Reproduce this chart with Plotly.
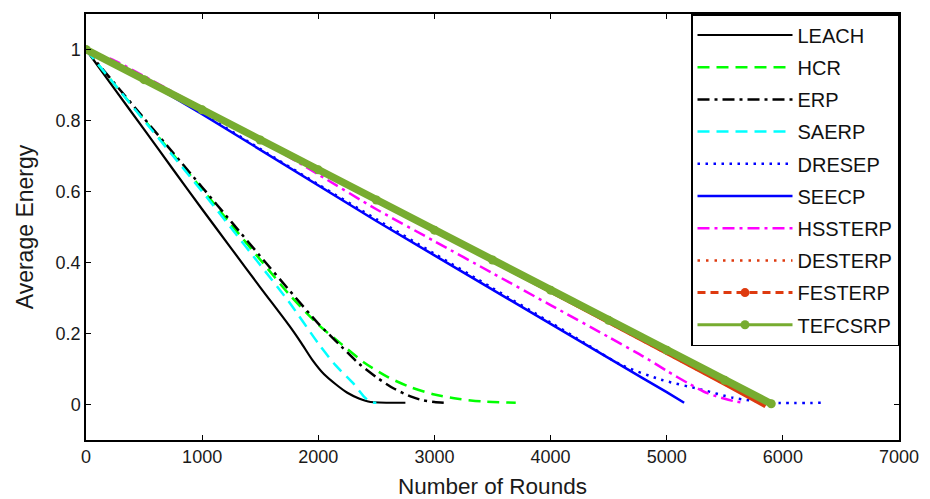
import plotly.graph_objects as go

# ---- data ----
leach_x = [0, 250, 500, 750, 1000, 1250, 1500, 1750, 1850, 1950, 2050, 2150, 2250, 2350, 2450, 2750]
leach_y = [1.0, 0.887, 0.775, 0.662, 0.55, 0.44, 0.33, 0.222, 0.175, 0.125, 0.085, 0.057, 0.033, 0.017, 0.007, 0.005]

hcr_x = [0, 250, 500, 750, 1000, 1250, 1500, 1750, 2000, 2200, 2400, 2600, 2800, 3000, 3200, 3400, 3700]
hcr_y = [1.0, 0.9, 0.802, 0.704, 0.606, 0.507, 0.408, 0.31, 0.225, 0.17, 0.117, 0.077, 0.048, 0.028, 0.016, 0.009, 0.005]

erp_x = [0, 250, 500, 750, 1000, 1250, 1500, 1750, 2000, 2200, 2350, 2500, 2650, 2800, 2900, 3000, 3080]
erp_y = [1.0, 0.903, 0.806, 0.709, 0.612, 0.515, 0.418, 0.322, 0.228, 0.163, 0.115, 0.077, 0.045, 0.022, 0.012, 0.007, 0.005]

saerp_x = [0, 250, 500, 750, 1000, 1250, 1500, 1750, 2000, 2150, 2300, 2400, 2450, 2500]
saerp_y = [1.0, 0.9, 0.8, 0.7, 0.6, 0.497, 0.393, 0.288, 0.172, 0.11, 0.06, 0.02, 0.007, 0.005]

dresep_x = [0, 500, 1000, 1500, 2000, 2500, 3000, 3500, 4000, 4300, 4600, 4950, 5300, 5570, 5900, 6370]
dresep_y = [1.0, 0.915, 0.82, 0.72, 0.62, 0.522, 0.425, 0.328, 0.231, 0.172, 0.113, 0.07, 0.042, 0.019, 0.005, 0.005]

seecp_x = [0, 500, 1000, 1500, 2000, 2500, 3000, 3500, 4000, 4500, 4800, 5000, 5150]
seecp_y = [1.0, 0.914, 0.818, 0.717, 0.616, 0.517, 0.42, 0.323, 0.226, 0.13, 0.073, 0.035, 0.005]

hssterp_x = [0, 250, 500, 1000, 1500, 2000, 2500, 3000, 3500, 4000, 4500, 4800, 5000, 5200, 5350, 5500, 5600, 5660]
hssterp_y = [1.0, 0.968, 0.925, 0.835, 0.745, 0.648, 0.55, 0.46, 0.37, 0.28, 0.19, 0.135, 0.095, 0.057, 0.032, 0.016, 0.008, 0.005]

desterp_x = [0, 500, 1000, 1500, 2000, 2500, 3000, 3500, 4000, 4500, 5000, 5500, 5800, 5850]
desterp_y = [1.0, 0.916, 0.832, 0.748, 0.663, 0.577, 0.49, 0.403, 0.316, 0.229, 0.142, 0.055, 0.005, -0.004]

festerp_x = [0, 500, 1000, 1500, 2000, 2500, 3000, 3500, 4000, 4500, 5000, 5500, 5750, 5850]
festerp_y = [1.0, 0.917, 0.834, 0.75, 0.665, 0.578, 0.492, 0.405, 0.318, 0.231, 0.145, 0.058, 0.015, -0.005]

tefcsrp_x = [0, 500, 1000, 1500, 2000, 2500, 3000, 3500, 4000, 4500, 5000, 5500, 5900]
tefcsrp_y = [1.0, 0.915, 0.83, 0.745, 0.661, 0.576, 0.491, 0.407, 0.322, 0.237, 0.153, 0.068, 0.002]

x_ticks = [0, 1000, 2000, 3000, 4000, 5000, 6000, 7000]
y_ticks = [0, 0.2, 0.4, 0.6, 0.8, 1]
y_ticktext = ["0", "0.2", "0.4", "0.6", "0.8", "1"]

RED = "#DE3A0F"
GREEN = "#77AC30"
FONT = "Liberation Sans, Arial, sans-serif"

fig = go.Figure()

def add(name, xs, ys, color, width, dash, rank, group, shape="linear"):
    fig.add_trace(go.Scatter(
        x=xs, y=ys, mode="lines", name=name,
        line=dict(color=color, width=width, dash=dash, shape=shape, smoothing=0.7),
        legendgroup=group, legendrank=rank,
    ))

add("LEACH", leach_x, leach_y, "black", 2.2, "solid", 1, "g1", "spline")
add("HCR", hcr_x, hcr_y, "#00FF00", 2.5, "12px,7px", 2, "g2", "spline")
add("ERP", erp_x, erp_y, "black", 2.5, "12px,5px,3px,5px", 3, "g3", "spline")
add("SAERP", saerp_x, saerp_y, "#00FFFF", 2.5, "12px,7px", 4, "g4", "spline")
add("DRESEP", dresep_x, dresep_y, "#0000FF", 2.5, "2.5px,5.5px", 5, "g5", "spline")
add("SEECP", seecp_x, seecp_y, "#0000FF", 2.5, "solid", 6, "g6")
add("HSSTERP", hssterp_x, hssterp_y, "#FF00FF", 2.5, "12px,5px,3px,5px", 7, "g7", "spline")
add("DESTERP", desterp_x, desterp_y, RED, 2.5, "2.5px,6px", 8, "g8")

# FESTERP: data drawn as dense marker line, legend key shown separately
fig.add_trace(go.Scatter(x=festerp_x, y=festerp_y, mode="lines", name="FESTERP",
                         line=dict(color=RED, width=4), showlegend=False, legendgroup="g9"))
fig.add_trace(go.Scatter(x=[None], y=[None], mode="lines+markers", name="FESTERP",
                         line=dict(color=RED, width=3, dash="8px,5px"),
                         marker=dict(color=RED, size=9), legendgroup="g9", legendrank=9))

fig.add_trace(go.Scatter(x=tefcsrp_x, y=tefcsrp_y, mode="lines+markers", name="TEFCSRP",
                         line=dict(color=GREEN, width=7.5), marker=dict(color=GREEN, size=9),
                         showlegend=False, legendgroup="g10"))
fig.add_trace(go.Scatter(x=[None], y=[None], mode="lines+markers", name="TEFCSRP",
                         line=dict(color=GREEN, width=3),
                         marker=dict(color=GREEN, size=9), legendgroup="g10", legendrank=10))

axis_common = dict(
    showline=True, linecolor="black", linewidth=1.5, mirror="ticks",
    ticks="inside", ticklen=5, tickcolor="black", tickwidth=1,
    showgrid=False, zeroline=False, automargin=False,
    tickfont=dict(family=FONT, size=18, color="#1a1a1a"),
)

fig.update_layout(
    width=930, height=499,
    margin=dict(l=86, r=31, t=14, b=59),
    paper_bgcolor="white", plot_bgcolor="white",
    font=dict(family=FONT, color="#1a1a1a"),
    xaxis=dict(range=[0, 7000], tickvals=x_ticks,
               title=dict(text="Number of Rounds", font=dict(family=FONT, size=22.5), standoff=14),
               **axis_common),
    yaxis=dict(range=[-0.1, 1.1], tickvals=y_ticks, ticktext=y_ticktext,
               title=dict(text="Average Energy", font=dict(family=FONT, size=23), standoff=16),
               **axis_common),
    legend=dict(x=1, y=1, xanchor="right", yanchor="top",
                bgcolor="white", bordercolor="black", borderwidth=1.5,
                font=dict(family=FONT, size=20, color="#111"),
                tracegroupgap=3.2, itemwidth=95,
                traceorder="grouped"),
)

fig.write_html("out.html")
